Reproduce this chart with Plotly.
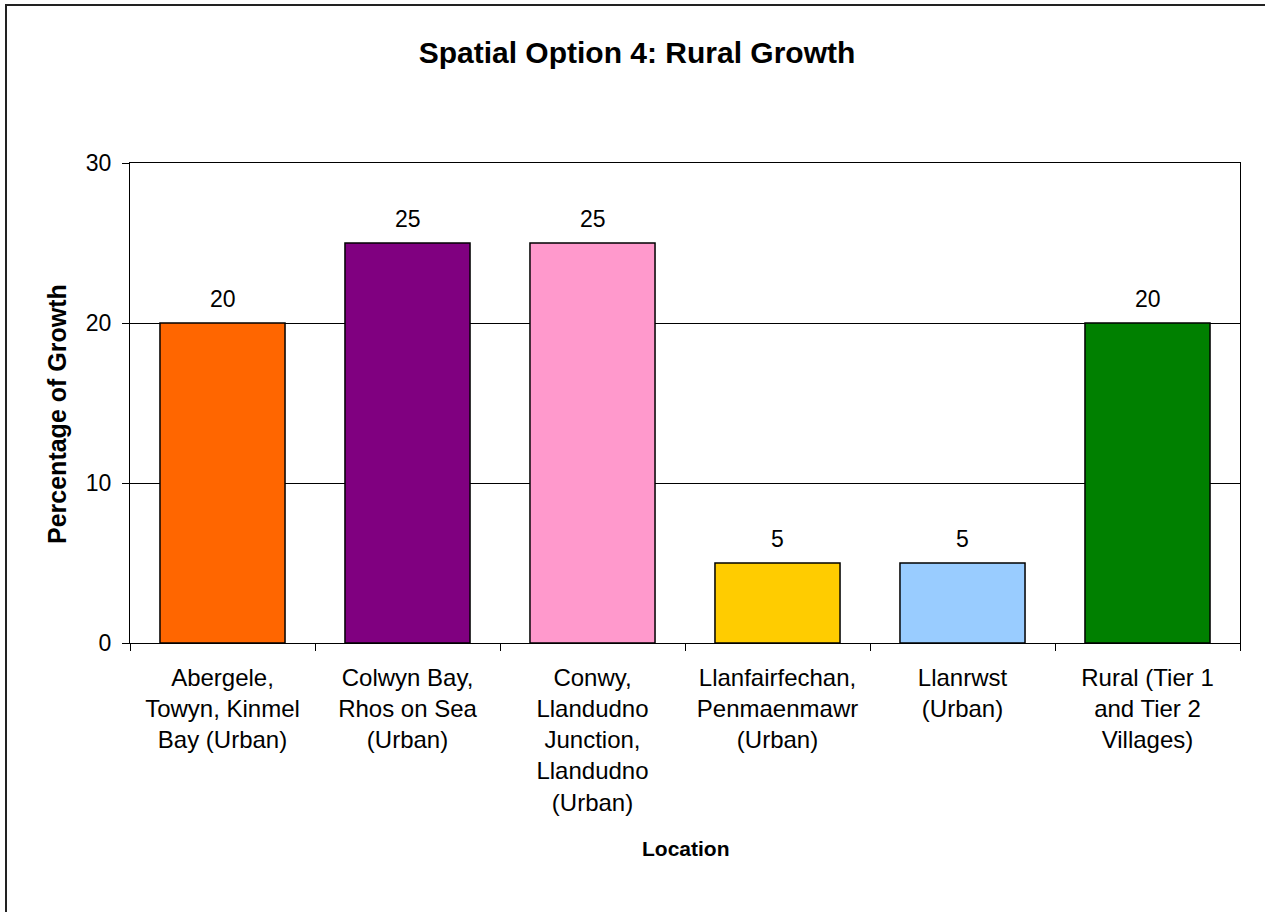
import plotly.graph_objects as go

# Share of planned growth by location
locations = [
    "Abergele,<br>Towyn, Kinmel<br>Bay (Urban)",
    "Colwyn Bay,<br>Rhos on Sea<br>(Urban)",
    "Conwy,<br>Llandudno<br>Junction,<br>Llandudno<br>(Urban)",
    "Llanfairfechan,<br>Penmaenmawr<br>(Urban)",
    "Llanrwst<br>(Urban)",
    "Rural (Tier 1<br>and Tier 2<br>Villages)",
]
growth_pct = [20, 25, 25, 5, 5, 20]
bar_colors = ["#FF6600", "#800080", "#FF99CC", "#FFCC00", "#99CCFF", "#008000"]
y_ticks = [0, 10, 20, 30]

FONT = "Liberation Sans, Arial, sans-serif"

fig = go.Figure()
fig.add_trace(go.Bar(
    x=locations,
    y=growth_pct,
    marker=dict(color=bar_colors, line=dict(color="black", width=1.5)),
    hoverinfo="skip",
))

# Value labels above each bar
for cat, v in zip(locations, growth_pct):
    fig.add_annotation(
        x=cat, y=v, text=str(v), showarrow=False,
        xref="x", yref="y", yanchor="bottom", yshift=9,
        font=dict(family=FONT, size=23, color="black"),
    )

# Axis titles
fig.add_annotation(
    text="<b>Percentage of Growth</b>", textangle=-90, showarrow=False,
    xref="paper", yref="paper", x=(57 - 130) / 1110, y=(643 - 414) / 480,
    xanchor="center", yanchor="middle",
    font=dict(family=FONT, size=25, color="black"),
)
fig.add_annotation(
    text="<b>Location</b>", showarrow=False,
    xref="paper", yref="paper", x=(686 - 130) / 1110, y=(643 - 848) / 480,
    xanchor="center", yanchor="middle",
    font=dict(family=FONT, size=21, color="black"),
)

# Outer chart frame
fig.add_shape(
    type="rect", xref="paper", yref="paper",
    x0=(6 - 130) / 1110, x1=(1290 - 130) / 1110,
    y0=(643 - 5) / 480, y1=(643 - 940) / 480,
    line=dict(color="#222222", width=2), fillcolor="rgba(0,0,0,0)",
    layer="below",
)

fig.update_layout(
    width=1265, height=912,
    margin=dict(l=130, r=25, t=163, b=269, autoexpand=False),
    paper_bgcolor="white", plot_bgcolor="white",
    showlegend=False,
    bargap=0.324,
    title=dict(
        text="<b>Spatial Option 4: Rural Growth</b>",
        x=637 / 1265, xanchor="center",
        y=1 - 52 / 912, yanchor="middle",
        font=dict(family=FONT, size=30, color="black"),
    ),
    font=dict(family=FONT, size=23, color="black"),
    xaxis=dict(
        type="category",
        range=[-0.5, len(locations) - 0.5],
        showline=True, linecolor="black", linewidth=1, mirror=True,
        ticks="outside", tickson="boundaries", ticklen=7, tickcolor="black",
        showgrid=False, zeroline=False,
        tickfont=dict(family=FONT, size=24, color="black"),
        tickangle=0, ticklabelstandoff=13,
    ),
    yaxis=dict(
        range=[0, 30], tickvals=y_ticks,
        showline=True, linecolor="black", linewidth=1, mirror=True,
        ticks="outside", ticklen=7, tickcolor="black",
        showgrid=True, gridcolor="black", gridwidth=1,
        zeroline=False,
        tickfont=dict(family=FONT, size=23, color="black"),
        ticklabelstandoff=6,
    ),
)

fig.write_html("out.html")
